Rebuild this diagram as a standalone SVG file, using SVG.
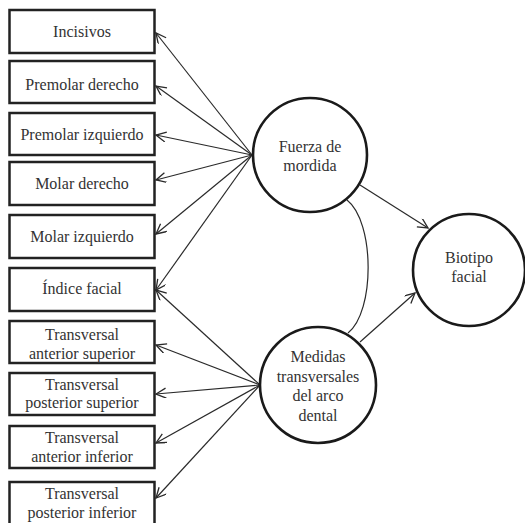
<svg xmlns="http://www.w3.org/2000/svg" width="525" height="523" viewBox="0 0 525 523">
<defs>
<marker id="ah" markerUnits="userSpaceOnUse" markerWidth="14" markerHeight="12" refX="11" refY="5" orient="auto">
<path d="M1,0 L11,5 L1,10" fill="none" stroke="#2a2a2a" stroke-width="1.3"/>
</marker>
</defs>
<rect width="525" height="523" fill="#fff"/>
<g id="connectors" fill="none" stroke="#2a2a2a" stroke-width="1.2">
<line x1="252" y1="155" x2="156" y2="33" marker-end="url(#ah)"/>
<line x1="252" y1="155" x2="156" y2="86" marker-end="url(#ah)"/>
<line x1="252" y1="155" x2="156" y2="135" marker-end="url(#ah)"/>
<line x1="252" y1="155" x2="156" y2="180" marker-end="url(#ah)"/>
<line x1="252" y1="155" x2="156" y2="234" marker-end="url(#ah)"/>
<line x1="252" y1="155" x2="156" y2="290" marker-end="url(#ah)"/>
<line x1="260" y1="385" x2="156" y2="290" marker-end="url(#ah)"/>
<line x1="260" y1="385" x2="156" y2="345" marker-end="url(#ah)"/>
<line x1="260" y1="385" x2="156" y2="394" marker-end="url(#ah)"/>
<line x1="260" y1="385" x2="156" y2="443" marker-end="url(#ah)"/>
<line x1="260" y1="385" x2="156" y2="498" marker-end="url(#ah)"/>
<line x1="360" y1="185" x2="428" y2="228" marker-end="url(#ah)"/>
<line x1="360" y1="342" x2="415" y2="293" marker-end="url(#ah)"/>
<path d="M347,200 C375,222 375,312 348,333"/>
</g>
<g text-anchor="middle">
<g id="incisivos"><rect x="9.5" y="10" width="145" height="43" fill="#fff" stroke="#222" stroke-width="2.5"/><text style="font-family:'Liberation Serif'" font-size="16" fill="#333" x="82" y="37">Incisivos</text></g>
<g id="premolar-derecho"><rect x="9.5" y="61" width="145" height="42" fill="#fff" stroke="#222" stroke-width="2.5"/><text style="font-family:'Liberation Serif'" font-size="16" fill="#333" x="82" y="90">Premolar derecho</text></g>
<g id="premolar-izquierdo"><rect x="9.5" y="113" width="145" height="42" fill="#fff" stroke="#222" stroke-width="2.5"/><text style="font-family:'Liberation Serif'" font-size="16" fill="#333" x="82" y="140">Premolar izquierdo</text></g>
<g id="molar-derecho"><rect x="9.5" y="162" width="145" height="43" fill="#fff" stroke="#222" stroke-width="2.5"/><text style="font-family:'Liberation Serif'" font-size="16" fill="#333" x="82" y="189">Molar derecho</text></g>
<g id="molar-izquierdo"><rect x="9.5" y="215" width="145" height="43" fill="#fff" stroke="#222" stroke-width="2.5"/><text style="font-family:'Liberation Serif'" font-size="16" fill="#333" x="82" y="242">Molar izquierdo</text></g>
<g id="indice-facial"><rect x="9.5" y="268" width="145" height="43" fill="#fff" stroke="#222" stroke-width="2.5"/><text style="font-family:'Liberation Serif'" font-size="16" fill="#333" x="82" y="294">Índice facial</text></g>
<g id="t-ant-sup"><rect x="9.5" y="321" width="145" height="42" fill="#fff" stroke="#222" stroke-width="2.5"/><text style="font-family:'Liberation Serif'" font-size="16" fill="#333" x="82" y="340">Transversal</text><text style="font-family:'Liberation Serif'" font-size="16" fill="#333" x="82" y="359">anterior superior</text></g>
<g id="t-post-sup"><rect x="9.5" y="373" width="145" height="42" fill="#fff" stroke="#222" stroke-width="2.5"/><text style="font-family:'Liberation Serif'" font-size="16" fill="#333" x="82" y="390">Transversal</text><text style="font-family:'Liberation Serif'" font-size="16" fill="#333" x="82" y="408">posterior superior</text></g>
<g id="t-ant-inf"><rect x="9.5" y="426" width="145" height="42" fill="#fff" stroke="#222" stroke-width="2.5"/><text style="font-family:'Liberation Serif'" font-size="16" fill="#333" x="82" y="443">Transversal</text><text style="font-family:'Liberation Serif'" font-size="16" fill="#333" x="82" y="462">anterior inferior</text></g>
<g id="t-post-inf"><rect x="9.5" y="482" width="145" height="44" fill="#fff" stroke="#222" stroke-width="2.5"/><text style="font-family:'Liberation Serif'" font-size="16" fill="#333" x="82" y="499">Transversal</text><text style="font-family:'Liberation Serif'" font-size="16" fill="#333" x="82" y="518">posterior inferior</text></g>
<g id="fuerza"><circle cx="310" cy="155" r="57" fill="#fff" stroke="#1a1a1a" stroke-width="2.6"/><text style="font-family:'Liberation Serif'" font-size="16" fill="#333" x="310" y="152">Fuerza de</text><text style="font-family:'Liberation Serif'" font-size="16" fill="#333" x="310" y="171">mordida</text></g>
<g id="medidas"><circle cx="318" cy="385" r="58" fill="#fff" stroke="#1a1a1a" stroke-width="2.6"/><text style="font-family:'Liberation Serif'" font-size="16" fill="#333" x="318" y="362">Medidas</text><text style="font-family:'Liberation Serif'" font-size="16" fill="#333" x="318" y="382">transversales</text><text style="font-family:'Liberation Serif'" font-size="16" fill="#333" x="318" y="401">del arco</text><text style="font-family:'Liberation Serif'" font-size="16" fill="#333" x="318" y="421">dental</text></g>
<g id="biotipo"><circle cx="469" cy="270" r="56" fill="#fff" stroke="#1a1a1a" stroke-width="2.6"/><text style="font-family:'Liberation Serif'" font-size="16" fill="#333" x="469" y="263">Biotipo</text><text style="font-family:'Liberation Serif'" font-size="16" fill="#333" x="469" y="282">facial</text></g>
</g>
</svg>
